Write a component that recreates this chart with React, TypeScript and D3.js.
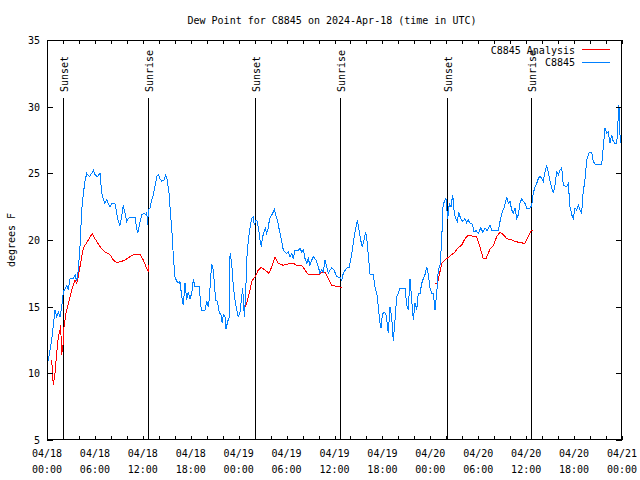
import React from "react";
import * as d3 from "d3";

const TITLE = "Dew Point for C8845 on 2024-Apr-18 (time in UTC)";
const Y_LABEL = "degrees F";
const SERIES_NAMES = ["C8845 Analysis", "C8845"];
const Y_TICKS = [5, 10, 15, 20, 25, 30, 35];
const START_UTC = Date.UTC(2024, 3, 18, 0, 0);
const SPAN_HOURS = 72;

// Observed dew point (blue), hours since 04/18 00:00 UTC
const obsHours = [
  0.0, 0.16, 0.59, 1.0, 1.21, 1.42, 1.63, 1.84, 2.04, 2.47, 2.67, 2.88, 3.29, 3.51, 3.72, 3.92, 4.13, 4.35, 4.55, 4.76,
  4.97, 5.3, 5.6, 5.8, 6.01, 6.3, 6.64, 6.85, 7.05, 7.26, 7.48, 7.68, 7.89, 8.1, 8.51, 8.73, 8.93, 9.14, 9.35, 9.55,
  9.77, 9.98, 10.18, 10.39, 11.02, 11.23, 11.36, 11.56, 11.86, 12.15, 12.4, 12.48, 12.61, 12.68, 12.9, 13.11, 13.31, 13.52, 13.74, 13.94,
  14.15, 14.36, 14.65, 14.86, 15.06, 15.28, 15.49, 15.69, 15.82, 16.03, 16.24, 16.57, 16.65, 16.87, 17.07, 17.28, 17.49, 17.69, 17.91, 18.12,
  18.32, 18.53, 19.07, 19.25, 19.37, 19.78, 20.0, 20.2, 20.33, 20.5, 20.62, 20.83, 20.95, 21.12, 21.33, 21.58, 21.75, 21.95, 22.08, 22.29,
  22.41, 22.63, 22.83, 22.92, 23.13, 23.33, 23.54, 23.75, 23.95, 24.17, 24.38, 24.5, 24.71, 24.88, 25.01, 25.21, 25.42, 25.63, 25.84, 25.96,
  26.17, 26.33, 26.51, 26.67, 26.83, 27.01, 27.17, 27.34, 27.51, 27.71, 27.84, 28.01, 28.26, 28.46, 28.64, 28.84, 29.09, 29.39, 29.59, 29.8,
  30.02, 30.22, 30.43, 30.64, 30.84, 31.05, 31.47, 31.68, 31.89, 32.1, 32.31, 32.52, 32.72, 32.93, 33.15, 33.35, 33.68, 33.97, 34.18, 34.4,
  34.6, 34.81, 35.02, 35.22, 35.44, 35.65, 35.94, 36.28, 36.69, 36.9, 37.1, 37.53, 37.82, 38.03, 38.23, 38.44, 38.66, 38.86, 39.07, 39.28,
  39.48, 39.69, 39.91, 40.11, 40.32, 40.45, 40.86, 41.07, 41.36, 41.57, 41.7, 41.82, 41.99, 42.2, 42.41, 42.54, 42.74, 42.95, 43.16, 43.36,
  43.58, 43.79, 43.99, 44.2, 44.83, 45.04, 45.24, 45.45, 45.67, 45.87, 46.08, 46.29, 46.49, 46.71, 46.92, 47.12, 47.33, 47.55, 47.75, 47.96,
  48.17, 48.37, 48.59, 48.8, 49.0, 49.21, 49.43, 49.55, 49.75, 49.96, 50.05, 50.18, 50.38, 50.59, 50.8, 51.0, 51.21, 51.38, 51.55, 51.8,
  52.05, 52.34, 52.55, 52.75, 52.97, 53.26, 53.47, 53.72, 54.01, 54.31, 54.56, 54.85, 55.13, 55.47, 55.68, 56.1, 56.52, 56.73, 56.94, 57.23,
  57.57, 57.77, 57.98, 58.19, 58.39, 58.6, 58.82, 59.02, 59.23, 59.44, 59.64, 59.85, 60.07, 60.48, 60.69, 60.89, 61.11, 61.32, 61.52, 61.73,
  61.94, 62.14, 62.36, 62.57, 62.77, 62.99, 63.2, 63.4, 63.61, 63.82, 64.03, 64.24, 64.45, 64.65, 65.07, 65.27, 65.49, 65.7, 65.9, 66.12,
  66.33, 66.53, 66.74, 66.95, 67.08, 67.37, 67.58, 67.91, 68.21, 68.41, 68.62, 69.46, 69.66, 69.87, 70.08, 70.28, 70.49, 70.7, 70.9, 71.12,
  71.33, 71.45, 71.58, 71.65, 71.74, 71.82,
];
const obsValues = [
  10.5, 11.0, 12.5, 14.75, 14.25, 14.6, 14.25, 15.0, 16.1, 16.6, 16.25, 17.1, 17.1, 17.4, 16.9, 17.75, 19.5, 22.25, 23.5, 24.4,
  25.0, 24.75, 25.0, 25.25, 24.9, 24.75, 25.0, 23.5, 23.1, 22.75, 23.0, 22.75, 22.5, 22.75, 22.75, 22.0, 21.4, 21.1, 21.75, 22.6,
  22.0, 21.4, 21.6, 21.7, 21.7, 20.9, 20.5, 21.1, 21.9, 22.0, 21.9, 22.1, 21.1, 22.25, 22.4, 23.0, 23.4, 24.0, 24.75, 24.9,
  24.6, 24.4, 24.5, 24.9, 24.5, 23.5, 21.75, 20.25, 18.75, 17.25, 16.9, 16.75, 16.9, 15.75, 15.1, 16.75, 15.5, 16.1, 15.6, 16.0,
  17.05, 16.5, 16.5, 15.1, 14.75, 14.75, 15.4, 15.0, 15.6, 17.25, 18.2, 17.75, 16.75, 15.5, 15.4, 14.5, 14.5, 13.75, 14.4, 14.25,
  13.3, 13.9, 14.25, 19.0, 18.25, 16.5, 15.5, 14.75, 14.25, 14.6, 15.75, 16.4, 14.25, 16.0, 18.5, 20.0, 20.9, 21.6, 21.75, 21.1,
  21.5, 21.4, 20.75, 20.0, 19.5, 20.25, 20.6, 20.9, 20.5, 20.9, 21.5, 21.75, 22.0, 22.3, 21.9, 21.5, 20.75, 19.9, 19.25, 19.1,
  19.0, 19.1, 18.75, 19.0, 18.6, 19.2, 19.2, 19.4, 19.1, 19.25, 18.6, 18.25, 18.6, 18.1, 18.5, 18.75, 18.5, 18.0, 17.5, 17.75,
  17.6, 18.5, 18.0, 17.5, 17.75, 17.9, 17.75, 17.25, 17.2, 17.0, 17.5, 17.9, 17.95, 18.5, 19.25, 20.1, 20.9, 21.5, 20.75, 20.0,
  19.45, 20.0, 20.6, 19.75, 18.25, 17.4, 17.4, 16.5, 15.75, 14.5, 13.75, 13.4, 14.4, 14.6, 14.5, 14.0, 13.0, 15.0, 14.25, 12.4,
  14.0, 15.75, 16.0, 16.4, 16.4, 15.1, 14.75, 17.1, 15.5, 14.0, 15.25, 14.75, 16.0, 16.0, 16.75, 17.1, 17.4, 18.0, 17.4, 16.4,
  16.0, 16.0, 14.75, 16.0, 17.75, 18.1, 20.0, 22.4, 22.9, 23.1, 22.4, 21.6, 22.75, 22.5, 23.4, 22.0, 21.6, 21.4, 22.1, 21.6,
  21.4, 21.6, 21.3, 21.5, 21.25, 21.2, 20.6, 20.7, 20.5, 20.9, 20.6, 20.9, 20.7, 21.15, 20.75, 20.75, 20.75, 21.4, 22.0, 22.4,
  23.25, 22.75, 22.9, 22.25, 22.0, 22.4, 21.6, 21.9, 22.75, 23.1, 22.9, 22.75, 22.4, 22.4, 22.6, 23.5, 24.0, 24.25, 24.6, 24.8,
  24.6, 24.4, 25.1, 25.6, 25.1, 24.4, 23.9, 23.5, 24.1, 25.1, 24.9, 25.25, 25.4, 24.1, 24.0, 24.25, 22.5, 21.9, 21.6, 22.4,
  22.25, 22.6, 22.25, 22.0, 23.25, 24.6, 26.0, 26.6, 26.6, 25.9, 25.7, 25.7, 27.0, 28.4, 28.0, 28.1, 27.25, 27.9, 27.4, 27.25,
  27.25, 28.1, 30.1, 29.75, 28.0, 27.25,
];

// Analysis dew point (red); null marks a gap
const anaHours = [
  0.59, 0.79, 1.0, 1.21, 1.42, 1.63, 1.71, 1.84, 2.04, 2.13, 2.38, 2.67, 3.09, 3.51, 3.72, 3.92, 4.13, 4.55, 4.76, 5.17,
  5.67, 6.01, 6.64, 7.26, 7.89, 8.3, 8.73, 9.35, 9.77, 10.39, 10.81, 11.65, 12.06, 12.4, 12.68, 12.77,
  null,
  24.71, 25.01, 25.42, 25.63, 26.05, 26.46, 26.8, 27.29, 27.8, 28.14, 28.55, 28.76, 28.96, 29.59, 30.43, 30.84, 31.27, 31.89, 32.31,
  32.72, 33.35, 33.97, 34.4, 34.81, 35.22, 35.65, 36.06, 36.9,
  null,
  48.59, 48.88, 49.13, 49.43, 49.84, 50.25, 50.67, 51.09, 51.5, 51.92, 52.34, 52.75, 53.17, 53.8, 54.21, 54.63, 54.96, 55.47, 55.89, 56.31,
  56.73, 57.14, 57.57, 58.19, 58.6, 59.23, 59.85, 60.27, 60.69, 60.89,
];
const anaValues = [
  11.0, 9.1, 10.0, 11.5, 12.75, 13.25, 13.6, 11.4, 12.25, 13.5, 14.5, 15.25, 16.25, 17.0, 16.75, 17.25, 18.0, 19.4, 19.6, 20.0,
  20.5, 20.1, 19.5, 19.1, 18.9, 18.5, 18.3, 18.4, 18.5, 18.75, 18.9, 18.9, 18.5, 18.0, 17.6, 18.1,
  null,
  14.9, 15.25, 16.25, 16.9, 17.25, 17.75, 17.95, 17.75, 17.5, 18.0, 18.75, 18.5, 18.25, 18.1, 18.25, 18.25, 18.1, 18.1, 17.75,
  17.4, 17.4, 17.4, 17.55, 17.6, 17.1, 16.6, 16.55, 16.45,
  null,
  16.7, 16.75, 17.4, 18.25, 18.5, 18.7, 18.9, 19.1, 19.45, 19.6, 20.1, 20.35, 20.3, 20.25, 19.5, 18.6, 18.6, 19.3, 19.6, 20.25,
  20.6, 20.4, 20.1, 20.0, 19.9, 19.8, 19.75, 20.25, 20.75, 20.75,
];

// Sunset / sunrise marks (hours since start)
const sunHours = [2.04, 12.69, 26.09, 36.73, 50.13, 60.61];
const sunLabels = ["Sunset", "Sunrise", "Sunset", "Sunrise", "Sunset", "Sunrise"];

const RED = "#ff0000";
const BLUE = "#0080ff";
const FONT = "'DejaVu Sans Mono', 'Liberation Mono', monospace";

export default function App() {
  const W = 640, H = 480;
  const L = 47, R = 622, T = 40, B = 440;
  const toDate = (h: number) => new Date(START_UTC + h * 3600e3);
  const x = d3.scaleUtc().domain([toDate(0), toDate(SPAN_HOURS)]).range([L, R]);
  const y = d3.scaleLinear().domain([5, 35]).range([B, T]);

  const obs = obsHours.map((h, i) => ({ h, v: obsValues[i] }));
  const ana = anaHours.map((h, i) => ({ h, v: anaValues[i] }));

  const line = d3
    .line<{ h: number | null; v: number | null }>()
    .defined((d) => d.h != null && d.v != null)
    .x((d) => x(toDate(d.h as number)))
    .y((d) => y(d.v as number));

  const minorTicks = x.ticks(d3.utcHour.every(2) as any);
  const majorTicks = x.ticks(d3.utcHour.every(6) as any);
  const fmtDate = d3.utcFormat("%m/%d");
  const fmtTime = d3.utcFormat("%H:%M");
  const snap = (v: number) => Math.round(v) + 0.5;

  return (
    <svg
      width={W}
      height={H}
      style={{ position: "absolute", left: 0, top: 0, background: "#fff" }}
      fontFamily={FONT}
      fontSize={10}
    >
      <rect x={0} y={0} width={W} height={H} fill="#fff" />
      <text x={332} y={24} textAnchor="middle" fill="#000">{TITLE}</text>

      {/* sun lines */}
      {sunHours.map((h, i) => {
        const px = snap(x(toDate(h)));
        return (
          <g key={"sun" + i}>
            <line x1={px} x2={px} y1={98} y2={B} stroke="#000" strokeWidth={1} shapeRendering="crispEdges" />
            <text transform={`translate(${px + 4},92) rotate(-90)`} textAnchor="start" fill="#000">
              {sunLabels[i]}
            </text>
          </g>
        );
      })}

      {/* data lines */}
      <path d={line(ana as any) || ""} fill="none" stroke={RED} strokeWidth={1} shapeRendering="crispEdges" />
      <path d={line(obs as any) || ""} fill="none" stroke={BLUE} strokeWidth={1} shapeRendering="crispEdges" />

      {/* frame */}
      <rect x={L + 0.5} y={T + 0.5} width={R - L - 1} height={B - T - 1} fill="none" stroke="#000" strokeWidth={1} shapeRendering="crispEdges" />

      {/* x ticks */}
      {minorTicks.map((t, i) => {
        const px = snap(x(t));
        return (
          <g key={"xt" + i}>
            <line x1={px} x2={px} y1={B} y2={B - 4} stroke="#000" shapeRendering="crispEdges" />
            <line x1={px} x2={px} y1={T} y2={T + 4} stroke="#000" shapeRendering="crispEdges" />
          </g>
        );
      })}
      {majorTicks.map((t, i) => (
        <g key={"xl" + i}>
          <text x={x(t)} y={457} textAnchor="middle" fill="#000">{fmtDate(t)}</text>
          <text x={x(t)} y={473} textAnchor="middle" fill="#000">{fmtTime(t)}</text>
        </g>
      ))}

      {/* y ticks */}
      {Y_TICKS.map((v) => {
        const py = snap(y(v));
        return (
          <g key={"yt" + v}>
            <line x1={L} x2={L + 6} y1={py} y2={py} stroke="#000" shapeRendering="crispEdges" />
            <line x1={R - 6} x2={R} y1={py} y2={py} stroke="#000" shapeRendering="crispEdges" />
            <text x={40} y={y(v) + 4} textAnchor="end" fill="#000">{v}</text>
          </g>
        );
      })}

      <text transform={`translate(15,240) rotate(-90)`} textAnchor="middle" fill="#000">{Y_LABEL}</text>

      {/* legend */}
      <text x={575} y={54} textAnchor="end" fill="#000">{SERIES_NAMES[0]}</text>
      <line x1={582} x2={610} y1={49.5} y2={49.5} stroke={RED} shapeRendering="crispEdges" />
      <text x={575} y={66} textAnchor="end" fill="#000">{SERIES_NAMES[1]}</text>
      <line x1={582} x2={610} y1={62.5} y2={62.5} stroke={BLUE} shapeRendering="crispEdges" />
    </svg>
  );
}
